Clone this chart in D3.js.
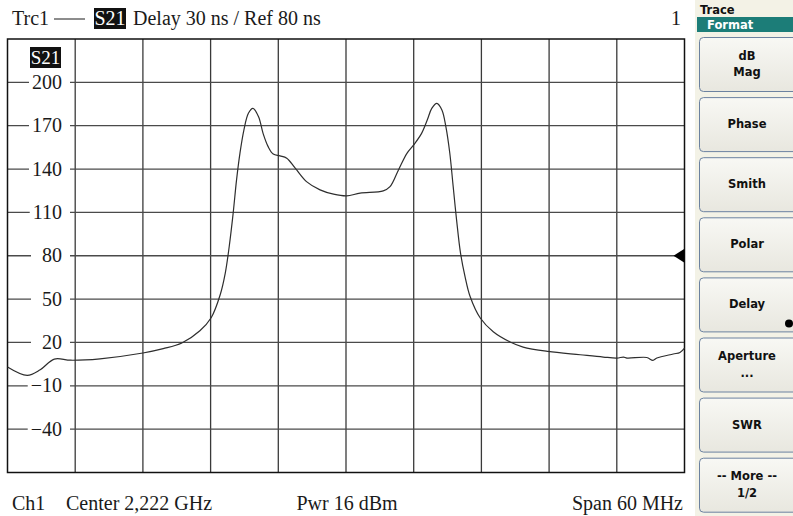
<!DOCTYPE html>
<html>
<head>
<meta charset="utf-8">
<script src="https://cdn.jsdelivr.net/npm/d3@7"></script>
<style>
  html, body { margin: 0; padding: 0; background: #fff; }
  svg { display: block; }
  .serif { font-family: "Liberation Serif", "Times New Roman", serif; fill: #1a1a1a; }
  .ui { font-family: "DejaVu Sans", Verdana, sans-serif; font-weight: bold; }
</style>
</head>
<body>
<svg id="chart" width="793" height="516"></svg>
<script>
// Group delay of S21 across the 60 MHz span (frequency in MHz, delay in ns)
const freqMHz = [
  2192.0, 2193.75, 2194.9, 2196.15, 2197.6, 2200.2, 2204.0, 2205.8, 2207.45, 2209.05,
  2210.05, 2210.85, 2211.3, 2211.65, 2212.0, 2212.3, 2212.6, 2212.95, 2213.35, 2213.75,
  2214.25, 2214.65, 2215.1, 2215.55, 2216.15, 2216.75, 2217.5, 2218.5, 2219.7, 2220.9,
  2222.05, 2223.25, 2225.3, 2225.9, 2226.65, 2227.4, 2228.0, 2228.7, 2229.2, 2229.6,
  2230.05, 2230.5, 2230.85, 2231.2, 2231.5, 2231.8, 2232.15, 2232.55, 2233.0, 2233.9,
  2235.05, 2236.55, 2237.7, 2239.9, 2242.75, 2244.8, 2246.0, 2246.6, 2246.9, 2248.65,
  2249.2, 2249.55, 2251.0, 2251.6, 2252.0
];
const delayNs = [
  3.0, -2.8, 1.1, 8.5, 7.7, 8.7, 12.7, 15.7, 19.6, 28.1,
  37.1, 53.0, 68.0, 86.4, 109.5, 132.5, 150.9, 167.0, 178.6, 182.0,
  176.2, 164.7, 155.5, 150.4, 149.1, 147.5, 140.6, 131.3, 125.6, 122.6,
  121.4, 123.3, 124.9, 127.8, 139.4, 150.9, 156.7, 164.7, 173.9, 182.0,
  185.5, 180.9, 169.3, 150.9, 127.8, 104.8, 81.8, 65.6, 51.8, 36.9,
  27.4, 20.3, 16.8, 13.8, 11.5, 9.9, 9.2, 9.9, 9.2, 9.6,
  7.6, 9.2, 12.0, 13.1, 16.1
];

// Axis settings
const centerMHz = 2222, spanMHz = 60;
const yTicks = [200, 170, 140, 110, 80, 50, 20, -10, -40];
const yMin = -70, yMax = 230, yStep = 30;
const refValue = 80;

// Header / footer texts
const traceLabel = "Trc1";
const paramLabel = "S21";
const headerText = "Delay 30 ns / Ref 80 ns";
const channelNo = "1";
const footerLeft = ["Ch1", "Center 2,222 GHz"];
const footerMid = "Pwr 16 dBm";
const footerRight = "Span 60 MHz";

// Softkey menu
const menuTitle = "Trace";
const menuHeader = "Format";
const softkeys = [["dB", "Mag"], ["Phase"], ["Smith"], ["Polar"], ["Delay"], ["Aperture", "..."], ["SWR"], ["-- More --", "1/2"]];
const activeKey = "Delay";

const svg = d3.select("#chart");
const W = 793, H = 516;
const plot = { left: 7.5, right: 684.5, top: 39, bottom: 472.5 };

svg.append("rect").attr("width", W).attr("height", H).attr("fill", "#fff");

const x = d3.scaleLinear()
  .domain([centerMHz - spanMHz / 2, centerMHz + spanMHz / 2])
  .range([plot.left, plot.right]);
const y = d3.scaleLinear()
  .domain([yMin, yMax])
  .range([plot.bottom, plot.top]);

// Grid
const g = svg.append("g");
const xGrid = d3.range(1, 10).map(i => x.domain()[0] + i * spanMHz / 10);
g.selectAll("line.vx").data(xGrid).join("line")
  .attr("x1", d => x(d)).attr("x2", d => x(d))
  .attr("y1", plot.top).attr("y2", plot.bottom)
  .attr("stroke", "#3a3a3a").attr("stroke-width", 1.3);

// Horizontal grid at each tick, with a gap left for the label
const labelG = svg.append("g");
yTicks.forEach(v => {
  const yy = y(v);
  g.append("line")
    .attr("x1", plot.left).attr("x2", plot.right)
    .attr("y1", yy).attr("y2", yy)
    .attr("stroke", "#4a4a4a").attr("stroke-width", 1.3);
  const t = labelG.append("text").attr("class", "serif")
    .attr("x", 62).attr("y", yy + 6.5)
    .attr("text-anchor", "end")
    .attr("font-size", 20)
    .text(v < 0 ? "\u2212" + Math.abs(v) : String(v));
  const bb = t.node().getBBox();
  labelG.insert("rect", "text")
    .attr("x", Math.min(31, bb.x - 3)).attr("y", yy - 8)
    .attr("width", 70 - Math.min(31, bb.x - 3)).attr("height", 16)
    .attr("fill", "#fff");
});

// Plot frame
svg.append("rect")
  .attr("x", plot.left).attr("y", plot.top)
  .attr("width", plot.right - plot.left).attr("height", plot.bottom - plot.top)
  .attr("fill", "none").attr("stroke", "#111").attr("stroke-width", 1.5);

// Parameter badge inside the plot
svg.append("rect").attr("x", 30).attr("y", 47).attr("width", 31).attr("height", 21).attr("fill", "#111");
svg.append("text").attr("class", "serif")
  .attr("x", 45.5).attr("y", 64).attr("text-anchor", "middle")
  .attr("font-size", 19).style("fill", "#fff").text(paramLabel);

// Trace
const pts = freqMHz.map((f, i) => [f, delayNs[i]]);
const line = d3.line()
  .x(d => x(d[0])).y(d => y(d[1]))
  .curve(d3.curveCatmullRom.alpha(0.5));
svg.append("path").datum(pts)
  .attr("d", line)
  .attr("fill", "none")
  .attr("stroke", "#2e2e2e")
  .attr("stroke-width", 1.2);

// Reference level marker
const ry = y(refValue);
svg.append("path")
  .attr("d", `M${plot.right},${ry - 7} L${plot.right - 11},${ry} L${plot.right},${ry + 7} Z`)
  .attr("fill", "#000");

// Header line
svg.append("text").attr("class", "serif").attr("x", 12).attr("y", 25).attr("font-size", 20).text(traceLabel);
svg.append("line").attr("x1", 54).attr("x2", 85).attr("y1", 19).attr("y2", 19).attr("stroke", "#1a1a1a").attr("stroke-width", 1);
svg.append("rect").attr("x", 94).attr("y", 8).attr("width", 32).attr("height", 21).attr("fill", "#111");
svg.append("text").attr("class", "serif").attr("x", 110).attr("y", 25).attr("text-anchor", "middle")
  .attr("font-size", 20).style("fill", "#fff").text(paramLabel);
svg.append("text").attr("class", "serif").attr("x", 133).attr("y", 25).attr("font-size", 20).text(headerText);
svg.append("text").attr("class", "serif").attr("x", 681).attr("y", 25).attr("text-anchor", "end").attr("font-size", 20).text(channelNo);

// Footer line
svg.append("text").attr("class", "serif").attr("x", 12).attr("y", 510).attr("font-size", 20).text(footerLeft[0]);
svg.append("text").attr("class", "serif").attr("x", 66).attr("y", 510).attr("font-size", 20).text(footerLeft[1]);
svg.append("text").attr("class", "serif").attr("x", 347).attr("y", 510).attr("text-anchor", "middle").attr("font-size", 20).text(footerMid);
svg.append("text").attr("class", "serif").attr("x", 683).attr("y", 510).attr("text-anchor", "end").attr("font-size", 20).text(footerRight);

// Softkey panel
const panel = svg.append("g");
panel.append("rect").attr("x", 695).attr("y", 0).attr("width", 98).attr("height", H).attr("fill", "#f3f2e6");
panel.append("text").attr("class", "ui").attr("x", 700).attr("y", 14).attr("font-size", 11.5).attr("fill", "#111").text(menuTitle);
panel.append("rect").attr("x", 697).attr("y", 17).attr("width", 96).attr("height", 15).attr("fill", "#1c7d78");
panel.append("text").attr("class", "ui").attr("x", 707).attr("y", 29).attr("font-size", 11.5).attr("fill", "#fff").text(menuHeader);

const defs = svg.append("defs");
const grad = defs.append("linearGradient").attr("id", "keyFill").attr("x1", 0).attr("x2", 0).attr("y1", 0).attr("y2", 1);
grad.append("stop").attr("offset", 0).attr("stop-color", "#f8f8f4");
grad.append("stop").attr("offset", 1).attr("stop-color", "#e8e7df");

const keyTop = 37, keyPitch = 60.1, keyH = 54;
softkeys.forEach((lines, i) => {
  const ky = keyTop + i * keyPitch;
  panel.append("rect")
    .attr("x", 699.5).attr("y", ky + 0.5).attr("width", 110).attr("height", keyH).attr("rx", 4)
    .attr("fill", "url(#keyFill)").attr("stroke", "#6c82a0").attr("stroke-width", 1);
  const cy = ky + keyH / 2;
  const lh = 16.5;
  lines.forEach((t, j) => {
    panel.append("text").attr("class", "ui")
      .attr("x", 747).attr("y", cy + 4 + (j - (lines.length - 1) / 2) * lh)
      .attr("text-anchor", "middle").attr("font-size", 11.5).attr("fill", "#111")
      .text(t);
  });
  if (lines[0] === activeKey) {
    panel.append("circle").attr("cx", 789).attr("cy", ky + 46).attr("r", 4).attr("fill", "#000");
  }
});
</script>
</body>
</html>
